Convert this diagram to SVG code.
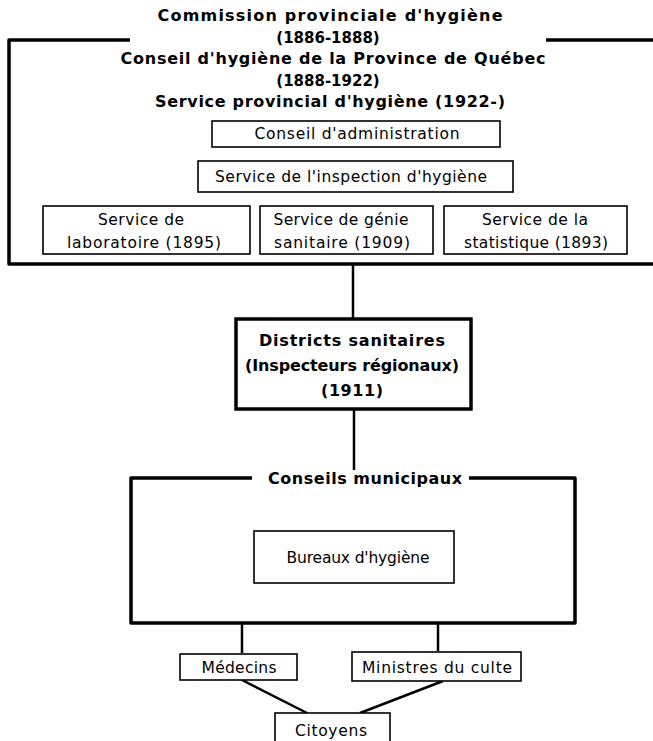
<svg xmlns="http://www.w3.org/2000/svg" width="653" height="741" viewBox="0 0 653 741">
<style>
  .bg { fill: #ffffff; }
  .box { fill: #ffffff; stroke: #000000; stroke-width: 1.6; }
  .thick { fill: #ffffff; stroke: #000000; stroke-width: 3.5; }
  .frame { fill: none; stroke: #000000; stroke-width: 3.5; stroke-linejoin: round; }
  .line { fill: none; stroke: #000000; stroke-width: 2.5; }
  .t { font-family: "DejaVu Sans", "Liberation Sans", sans-serif; font-size: 15.5px; fill: #000; text-anchor: middle; }
  .b { font-family: "DejaVu Sans", "Liberation Sans", sans-serif; font-size: 16px; font-weight: bold; fill: #000; text-anchor: middle; }
  .y { font-family: "DejaVu Sans", "Liberation Sans", sans-serif; font-size: 15px; font-weight: bold; fill: #000; text-anchor: middle; }
</style>
<rect class="bg" x="0" y="0" width="653" height="741"/>

<g id="connectors">
  <line class="line" x1="353" y1="265" x2="353" y2="318"/>
  <line class="line" x1="354" y1="410" x2="354" y2="470"/>
  <line class="line" x1="242" y1="623" x2="242" y2="653"/>
  <line class="line" x1="438" y1="623" x2="438" y2="651"/>
  <line class="line" x1="242" y1="680" x2="307" y2="713"/>
  <line class="line" x1="443" y1="681" x2="360" y2="713"/>
</g>

<g id="service-provincial">
  <path class="frame" d="M130,40 H9 V264 H653"/>
  <line class="frame" x1="546" y1="40" x2="653" y2="40"/>
  <text class="b" x="330" y="21" textLength="345" lengthAdjust="spacing">Commission provinciale d'hygiène</text>
  <text class="y" x="328" y="43">(1886-1888)</text>
  <text class="b" x="333" y="64" textLength="425" lengthAdjust="spacing">Conseil d'hygiène de la Province de Québec</text>
  <text class="y" x="328" y="86">(1888-1922)</text>
  <text class="b" x="330" y="107" textLength="350" lengthAdjust="spacing">Service provincial d'hygiène (1922-)</text>
</g>

<g id="conseil-administration">
  <rect class="box" x="212" y="121" width="288" height="26"/>
  <text class="t" x="357" y="139" textLength="205" lengthAdjust="spacing">Conseil d'administration</text>
</g>

<g id="service-inspection">
  <rect class="box" x="198" y="161" width="315" height="31"/>
  <text class="t" x="351" y="182" textLength="272" lengthAdjust="spacing">Service de l'inspection d'hygiène</text>
</g>

<g id="service-laboratoire">
  <rect class="box" x="43" y="206" width="207" height="48"/>
  <text class="t" x="141" y="225" textLength="86" lengthAdjust="spacing">Service de</text>
  <text class="t" x="144" y="248" textLength="154" lengthAdjust="spacing">laboratoire (1895)</text>
</g>

<g id="service-genie">
  <rect class="box" x="260" y="206" width="173" height="48"/>
  <text class="t" x="341" y="225" textLength="135" lengthAdjust="spacing">Service de génie</text>
  <text class="t" x="342" y="248" textLength="136" lengthAdjust="spacing">sanitaire (1909)</text>
</g>

<g id="service-statistique">
  <rect class="box" x="444" y="206" width="183" height="48"/>
  <text class="t" x="535" y="225" textLength="106" lengthAdjust="spacing">Service de la</text>
  <text class="t" x="536" y="248" textLength="144" lengthAdjust="spacing">statistique (1893)</text>
</g>

<g id="districts-sanitaires">
  <rect class="thick" x="236" y="319" width="235" height="90"/>
  <text class="b" x="352" y="346" textLength="186" lengthAdjust="spacing">Districts sanitaires</text>
  <text class="b" x="352" y="371" textLength="214" lengthAdjust="spacing">(Inspecteurs régionaux)</text>
  <text class="b" x="352" y="396" textLength="62" lengthAdjust="spacing">(1911)</text>
</g>

<g id="conseils-municipaux">
  <path class="frame" d="M252,478 H131 V623 H575 V478 H469"/>
  <text class="b" x="365" y="484" textLength="194" lengthAdjust="spacing">Conseils municipaux</text>
</g>

<g id="bureaux-hygiene">
  <rect class="box" x="254" y="531" width="200" height="52"/>
  <text class="t" x="358" y="563" textLength="143" lengthAdjust="spacing">Bureaux d'hygiène</text>
</g>

<g id="medecins">
  <rect class="box" x="180" y="654" width="117" height="26"/>
  <text class="t" x="239" y="673" textLength="75" lengthAdjust="spacing">Médecins</text>
</g>

<g id="ministres">
  <rect class="box" x="352" y="652" width="169" height="29"/>
  <text class="t" x="437" y="673" textLength="150" lengthAdjust="spacing">Ministres du culte</text>
</g>

<g id="citoyens">
  <rect class="box" x="275" y="713" width="115" height="40"/>
  <text class="t" x="331" y="736" textLength="72" lengthAdjust="spacing">Citoyens</text>
</g>
</svg>
